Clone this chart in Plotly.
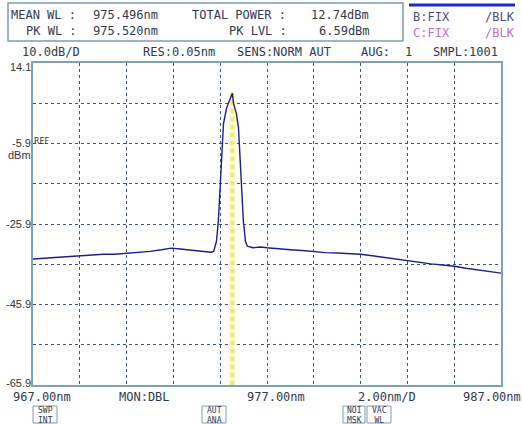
import plotly.graph_objects as go

# ---- data ----
wavelength_nm = [967.0, 967.5, 968.0, 968.5, 969.0, 969.5, 970.0, 970.5, 971.0, 971.5,
                 972.0, 972.5, 972.9, 973.3, 973.7, 974.2, 974.6, 974.72, 974.84, 974.92,
                 975.01, 975.09, 975.14, 975.27, 975.38, 975.52, 975.57, 975.62, 975.69,
                 975.78, 975.82, 975.91, 975.99, 976.08, 976.16, 976.4, 976.72, 977.0,
                 977.5, 978.0, 978.5, 979.0, 979.5, 980.0, 980.5, 981.0, 981.5, 982.0,
                 982.5, 983.0, 983.5, 984.0, 984.5, 985.0, 985.5, 986.0, 986.5, 987.0]
level_dbm = [-34.6, -34.4, -34.2, -34.0, -33.9, -33.6, -33.4, -33.4, -33.2, -32.9,
             -32.7, -32.3, -31.9, -32.1, -32.4, -32.6, -32.9, -32.7, -30.2, -25.2,
             -16.0, -7.0, -1.0, 2.9, 4.5, 6.59, 4.0, 3.2, 1.6,
             -1.9, -6.9, -16.9, -25.2, -30.2, -31.4, -31.8, -31.6, -31.8,
             -32.1, -32.3, -32.5, -32.8, -33.0, -33.1, -33.3, -33.4, -33.8, -34.2,
             -34.7, -35.1, -35.4, -35.8, -36.1, -36.4, -36.9, -37.3, -37.7, -38.1]

peak_wl_nm = 975.52
peak_lvl_dbm = 6.59

x_range = [967.0, 987.0]
y_range = [-65.9, 14.1]
y_tick_vals = [14.1, -5.9, -25.9, -45.9, -65.9]
y_tick_text = ["14.1", "-5.9", "-25.9", "-45.9", "-65.9"]

header_line1 = [("MEAN WL :", 10), ("975.496nm", 92), ("TOTAL POWER :", 191), ("12.74dBm", 310)]
header_line2 = [("PK WL :", 25), ("975.520nm", 92), ("PK LVL :", 228), ("6.59dBm", 318)]
header_line3 = [("10.0dB/D", 21), ("RES:0.05nm", 142), ("SENS:NORM AUT", 236), ("AUG:", 360),
                ("1", 404), ("SMPL:1001", 432)]
bottom_labels = [("967.00nm", 12), ("MON:DBL", 118), ("977.00nm", 246), ("2.00nm/D", 357),
                 ("987.00nm", 462)]
soft_keys = [("SWP<br>INT", 33, 57), ("AUT<br>ANA", 202, 226), ("NOI<br>MSK", 343, 365),
             ("VAC<br>WL", 367, 391)]

# ---- geometry helpers (pixel -> paper) ----
W, H = 522, 424
L, R, T, B = 33, 501, 63, 385


def px(x):
    return (x - L) / (R - L)


def py(y):
    return (B - y) / (B - T)


MONO = "DejaVu Sans Mono"
TXT = "#33394f"

fig = go.Figure()

# peak marker band (yellow)
fig.add_trace(go.Scatter(x=[peak_wl_nm, peak_wl_nm], y=[y_range[0], peak_lvl_dbm + 0.5],
                         mode="lines", line=dict(color="#fbf9c6", width=6),
                         hoverinfo="skip", showlegend=False))
fig.add_trace(go.Scatter(x=[peak_wl_nm, peak_wl_nm], y=[y_range[0], peak_lvl_dbm + 0.5],
                         mode="lines", line=dict(color="#f0ea72", width=4, dash="dot"),
                         hoverinfo="skip", showlegend=False))

# spectrum trace
fig.add_trace(go.Scatter(x=wavelength_nm, y=level_dbm, mode="lines",
                         line=dict(color="#1e1e8c", width=1.4), showlegend=False))

annotations = []


def add_text(text, x, y, size=12, color=TXT, family=MONO, xanchor="left"):
    annotations.append(dict(text=text, x=px(x), y=py(y), xref="paper", yref="paper",
                            showarrow=False, xanchor=xanchor, yanchor="middle",
                            borderpad=0,
                            font=dict(family=family, size=size, color=color)))


for t, x in header_line1:
    add_text(t, x, 15)
for t, x in header_line2:
    add_text(t, x, 31)
for t, x in header_line3:
    add_text(t, x, 52)

add_text("B:FIX", 412, 17, color="#4a5070")
add_text("/BLK", 484, 17, color="#4a5070")
add_text("C:FIX", 412, 33, color="#c46ccc")
add_text("/BLK", 484, 33, color="#c46ccc")

for t, x in bottom_labels:
    add_text(t, x, 397)

for t, x0, x1 in soft_keys:
    annotations.append(dict(text=t, x=px((x0 + x1) / 2), y=py(415), xref="paper", yref="paper",
                            showarrow=False, xanchor="center", yanchor="middle",
                            font=dict(family=MONO, size=8, color=TXT)))

# y tick labels
NARROW = "Liberation Sans Narrow, Liberation Sans, Arial"
for v, t in zip(y_tick_vals, y_tick_text):
    yy = B - (v - y_range[0]) / (y_range[1] - y_range[0]) * (B - T)
    if v == y_range[1]:
        yy += 4
    if v == y_range[0]:
        yy -= 2
    add_text(t, 32, yy, size=11, family=NARROW, color="#333333", xanchor="right")
add_text("REF", 33, 141, size=8, family="DejaVu Sans", color="#333333")
add_text("dBm", 32, 155, size=11, family=NARROW, color="#333333", xanchor="right")

shapes = [
    dict(type="rect", xref="paper", yref="paper", x0=px(8), x1=px(403), y0=py(41), y1=py(3),
         line=dict(color="#7f9db3", width=1.5)),
    dict(type="line", xref="paper", yref="paper", x0=px(409), x1=px(515), y0=py(5), y1=py(5),
         line=dict(color="#1a2ad6", width=3)),
]
for t, x0, x1 in soft_keys:
    shapes.append(dict(type="rect", xref="paper", yref="paper", x0=px(x0), x1=px(x1),
                       y0=py(423), y1=py(406), line=dict(color="#7f9db3", width=1)))

fig.update_layout(
    width=W, height=H,
    margin=dict(l=L, r=W - R, t=T, b=H - B, pad=0),
    paper_bgcolor="white", plot_bgcolor="white",
    showlegend=False,
    annotations=annotations,
    shapes=shapes,
    xaxis=dict(range=x_range, dtick=2, tick0=967, showticklabels=False, ticks="",
               showgrid=True, gridcolor="#3c5a78", griddash="dot", gridwidth=1,
               showline=True, linecolor="#7ea2b6", linewidth=2, mirror=True, zeroline=False),
    yaxis=dict(range=y_range, dtick=10, tick0=-65.9, showticklabels=False, ticks="",
               showgrid=True, gridcolor="#3c5a78", griddash="dot", gridwidth=1,
               showline=True, linecolor="#7ea2b6", linewidth=2, mirror=True, zeroline=False),
)

fig.write_html("out.html", config={"displayModeBar": False},
               post_script="document.body.style.margin='0';document.body.style.overflow='hidden';")
